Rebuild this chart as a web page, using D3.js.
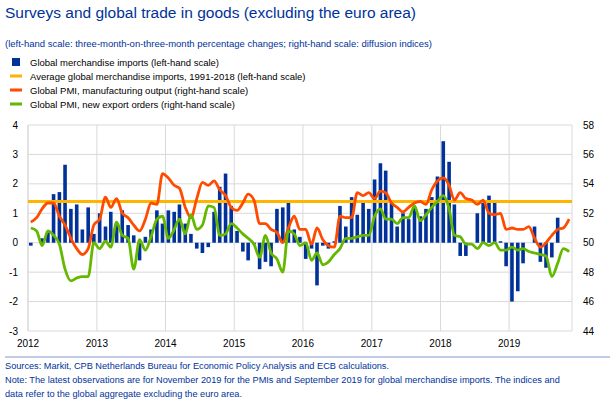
<!DOCTYPE html><html><head><meta charset="utf-8"><script src="https://cdn.jsdelivr.net/npm/d3@7"></script>
<style>body{margin:0;background:#fff}text{font-family:Arial,"Liberation Sans",sans-serif}</style></head><body><svg id="c" width="615" height="412"></svg><script>
const imports=[-0.1,0,0.15,0.35,1.65,1.72,2.65,1.15,1.3,0.45,1.2,0.3,
1.0,0.55,1.05,0.6,1.1,0.6,0.25,-0.6,0.2,0.45,1.1,0.65,
1.1,1.05,1.3,0.65,0.3,-0.2,-0.35,-0.15,1.05,1.9,2.35,1.25,
0.4,-0.3,-0.6,-0.05,-0.9,-0.65,-0.8,1.15,1.2,1.35,0.45,0.2,
-0.55,-0.2,-1.45,-0.1,-0.2,0.05,1.25,0.55,1.55,0.95,1.45,1.15,
2.15,2.7,2.45,1.4,0.55,1.0,0.8,1.2,0.9,1.15,1.55,2.25,
3.45,2.75,1.3,-0.45,-0.45,0,1.0,1.35,1.6,1.35,0.05,-0.8,
-2.0,-1.65,-0.7,0,0.55,-0.65,-0.85,-0.5,0.85];
const pmiOutput=[51.4,51.7,52.3,52.7,52.7,51.8,51.2,50.3,49.6,49.2,49.6,51.2,
51.6,53.1,52.4,53.0,52.0,51.7,51.2,50.8,51.6,52.7,52.6,54.7,
54.4,53.9,53.7,52.4,51.7,53.0,54.1,53.9,54.2,53.6,53.2,52.4,
52.2,52.7,53.3,52.9,51.3,51.3,50.9,50.7,50.0,51.0,51.8,50.9,
50.9,49.9,51.0,50.2,49.8,49.7,51.8,51.7,51.7,53.4,53.2,53.4,
53.0,53.5,53.4,52.7,52.4,52.1,52.4,52.7,52.8,52.6,53.6,54.2,
54.4,53.9,52.9,53.4,53.0,52.9,52.6,52.9,52.0,51.9,52.0,50.9,
51.0,50.9,50.9,51.1,50.3,49.7,50.0,50.5,50.9,51.0,51.6];
const pmiExport=[51.0,50.8,49.8,50.8,50.5,49.9,48.2,47.4,47.6,47.7,47.7,50.0,
49.6,50.1,49.7,51.4,50.5,50.3,48.2,50.2,49.5,50.4,51.6,51.8,
50.3,50.9,51.6,50.6,51.9,50.9,51.2,52.5,52.4,50.5,50.6,51.3,
51.0,50.6,50.3,49.9,49.0,50.5,49.3,48.9,48.0,50.8,50.6,49.8,
50.0,48.8,49.3,48.5,48.7,49.2,49.6,50.3,50.3,50.4,50.5,50.5,
51.8,52.3,51.6,51.6,51.3,51.7,51.7,52.5,51.5,51.9,52.4,52.8,
53.2,52.3,50.5,50.4,49.9,49.9,49.6,50.0,49.8,50.0,49.5,49.5,
49.7,49.5,49.6,49.4,49.3,49.2,49.1,47.7,48.6,49.6,49.4];
const avgImports=1.4;
const years=[2012,2013,2014,2015,2016,2017,2018,2019];
const leftTicks=[4,3,2,1,0,-1,-2,-3];
const rightTicks=[58,56,54,52,50,48,46,44];
const legend=[["Global merchandise imports (left-hand scale)","#003299","box"],
["Average global merchandise imports, 1991-2018 (left-hand scale)","#ffb400","line"],
["Global PMI, manufacturing output (right-hand scale)","#ff4b00","line"],
["Global PMI, new export orders (right-hand scale)","#65b800","line"]];

const svg=d3.select("#c");
const L=28,R=572,T=125,B=331;
const mDate=i=>new Date(2012,i,1);
const x=d3.scaleTime().domain([new Date(2012,0,1),new Date(2019,11,1)]).range([L,R]);
const yl=d3.scaleLinear().domain([-3,4]).range([B,T]);
const yr=d3.scaleLinear().domain([44,58]).range([B,T]);
svg.append("text").attr("x",5).attr("y",18).attr("fill","#003299").attr("font-size",15.5).text("Surveys and global trade in goods (excluding the euro area)");
svg.append("text").attr("x",5).attr("y",47).attr("fill","#003299").attr("font-size",9.5).text("(left-hand scale: three-month-on-three-month percentage changes; right-hand scale: diffusion indices)");
legend.forEach((d,i)=>{const yy=62+i*14;
 if(d[2]=="box")svg.append("rect").attr("x",12).attr("y",yy-4).attr("width",8).attr("height",8).attr("fill",d[1]);
 else svg.append("rect").attr("x",10).attr("y",yy-1.5).attr("width",12).attr("height",3).attr("fill",d[1]);
 svg.append("text").attr("x",30).attr("y",yy+3.5).attr("font-size",9.5).attr("fill","#000").text(d[0]);});
const g=svg.append("g");
leftTicks.forEach(t=>g.append("line").attr("x1",L).attr("x2",R).attr("y1",yl(t)).attr("y2",yl(t)).attr("stroke","#d9d9d9"));
years.forEach(yv=>g.append("line").attr("x1",x(new Date(yv,0,1))).attr("x2",x(new Date(yv,0,1))).attr("y1",T).attr("y2",B).attr("stroke","#d9d9d9"));
g.append("line").attr("x1",R).attr("x2",R).attr("y1",T).attr("y2",B).attr("stroke","#d9d9d9");
g.append("line").attr("x1",L).attr("x2",L).attr("y1",T).attr("y2",B).attr("stroke","#d9d9d9");
g.selectAll(".b").data(imports).join("rect").attr("x",(d,i)=>x(mDate(i))+1).attr("width",3.6)
 .attr("y",d=>yl(Math.max(0,d))).attr("height",d=>Math.abs(yl(d)-yl(0))).attr("fill","#003299");
g.append("line").attr("x1",L).attr("x2",R).attr("y1",yl(avgImports)).attr("y2",yl(avgImports)).attr("stroke","#ffb400").attr("stroke-width",3);
const ln=d3.line().x((d,i)=>x(mDate(i))+2.8).y(d=>yr(d)).curve(d3.curveMonotoneX);
g.append("path").attr("d",ln(pmiOutput)).attr("fill","none").attr("stroke","#ff4b00").attr("stroke-width",2.8);
g.append("path").attr("d",ln(pmiExport)).attr("fill","none").attr("stroke","#65b800").attr("stroke-width",2.8);
leftTicks.forEach(t=>svg.append("text").attr("x",18).attr("y",yl(t)+3.5).attr("text-anchor","end").attr("font-size",10).text(t));
rightTicks.forEach(t=>svg.append("text").attr("x",583).attr("y",yr(t)+3.5).attr("font-size",10).text(t));
years.forEach(yv=>svg.append("text").attr("x",x(new Date(yv,0,1))).attr("y",347).attr("text-anchor","middle").attr("font-size",10).text(yv));
svg.append("line").attr("x1",5).attr("x2",610).attr("y1",357).attr("y2",357).attr("stroke","#003299").attr("stroke-width",0.5);
["Sources: Markit, CPB Netherlands Bureau for Economic Policy Analysis and ECB calculations.",
"Note: The latest observations are for November 2019 for the PMIs and September 2019 for global merchandise imports. The indices and",
"data refer to the global aggregate excluding the euro area."].forEach((s,i)=>svg.append("text").attr("x",5).attr("y",369+i*14).attr("font-size",9.2).attr("fill","#003299").text(s));
</script></body></html>
